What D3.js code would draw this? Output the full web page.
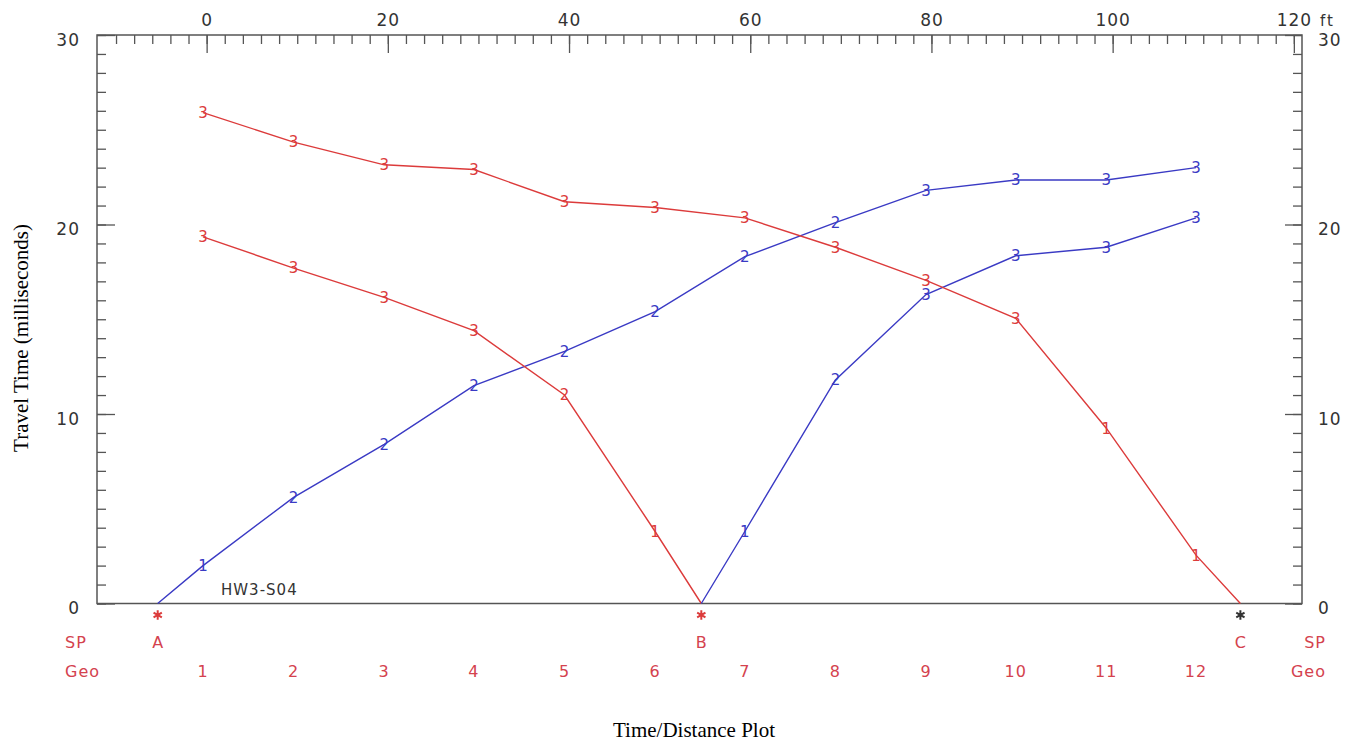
<!DOCTYPE html>
<head>
  <title>Time/Distance Plot</title>
  <meta charset="utf-8">
  <script src="https://cdn.jsdelivr.net/npm/d3@7"></script>
  <style>
    body { margin: 0; background: #fff; }
    .plotfont { font-family: "DejaVu Sans", sans-serif; }
  </style>
</head>
<body>
<div id="container"></div>
<script>
  // geophones and shot points, position along the line in ft
  const geoNames = ['1','2','3','4','5','6','7','8','9','10','11','12'];
  const geoFt = [-0.4, 9.6, 19.6, 29.5, 39.5, 49.5, 59.4, 69.4, 79.4, 89.3, 99.3, 109.2];
  const shotNames = ['A','B','C'];
  const shotFt = [-5.4, 54.6, 114.1];

  // travel times (ms) and picked layer numbers
  // shot A, forward, geophones 1-12
  const shotATimes = [2.0, 5.6, 8.4, 11.5, 13.3, 15.4, 18.3, 20.1, 21.8, 22.35, 22.35, 23.0];
  const shotALayers = ['1','2','2','2','2','2','2','2','3','3','3','3'];
  // shot B, reverse, geophones 1-6
  const shotBRevTimes = [19.35, 17.7, 16.15, 14.4, 11.0, 3.8];
  const shotBRevLayers = ['3','3','3','3','2','1'];
  // shot B, forward, geophones 7-12
  const shotBFwdTimes = [3.8, 11.8, 16.3, 18.35, 18.8, 20.35];
  const shotBFwdLayers = ['1','2','3','3','3','3'];
  // shot C, reverse, geophones 1-12
  const shotCTimes = [25.9, 24.35, 23.15, 22.9, 21.2, 20.9, 20.35, 18.8, 17.05, 15.05, 9.25, 2.55];
  const shotCLayers = ['3','3','3','3','3','3','3','3','3','3','1','1'];

  const topMinorTicks = d3.range(-10, 121, 2);
  const topMajorTicks = [0, 20, 40, 60, 80, 100, 120];
  const yMinorTicks = d3.range(0, 31, 1);
  const yMajorTicks = [0, 10, 20, 30];

  const width = 1362, height = 743;
  const frame = {left: 97, right: 1302, top: 35, bottom: 603.5};
  const red = '#dc3b3b', blue = '#3a3ac4', grey = '#555';

  const svg = d3.select('div#container').append('svg')
    .attr('width', width)
    .attr('height', height)
    .attr('class', 'plotfont');

  const x = d3.scaleLinear().domain([-12.1, 120.9]).range([frame.left, frame.right]);
  const y = d3.scaleLinear().domain([0, 30]).range([frame.bottom, frame.top]);

  // frame
  svg.append('rect')
    .attr('x', frame.left).attr('y', frame.top)
    .attr('width', frame.right - frame.left)
    .attr('height', frame.bottom - frame.top)
    .style('fill', 'none').style('stroke', grey).style('stroke-width', 1.5);

  function styleAxis(g) {
    g.select('.domain').remove();
    g.selectAll('line').style('stroke', grey).style('stroke-width', 1.3);
    g.selectAll('text').style('font-family', '"DejaVu Sans", sans-serif')
      .style('font-size', '17px').style('fill', '#333').style('letter-spacing', '1px');
  }

  // top distance axis, ticks pointing in
  svg.append('g').attr('transform', `translate(0,${frame.top})`)
    .call(d3.axisTop(x).tickValues(topMinorTicks).tickSize(-9).tickSizeOuter(0).tickFormat(''))
    .call(styleAxis);
  svg.append('g').attr('transform', `translate(0,${frame.top})`)
    .call(d3.axisTop(x).tickValues(topMajorTicks).tickSize(-18).tickSizeOuter(0).tickPadding(9).tickFormat(d3.format('d')))
    .call(styleAxis);

  svg.append('text')
    .attr('x', 1320).attr('y', 26)
    .style('font-size', '15px').style('fill', '#333').style('letter-spacing', '2px')
    .text('ft');

  // left and right time axes
  svg.append('g').attr('transform', `translate(${frame.left},0)`)
    .call(d3.axisLeft(y).tickValues(yMinorTicks).tickSize(-9).tickSizeOuter(0).tickFormat(''))
    .call(styleAxis);
  svg.append('g').attr('transform', `translate(${frame.left},0)`)
    .call(d3.axisLeft(y).tickValues(yMajorTicks).tickSize(-18).tickSizeOuter(0).tickPadding(-1).tickFormat(d3.format('d')))
    .call(styleAxis)
    .selectAll('text').attr('x', -17).attr('dy', '0.6em');
  svg.append('g').attr('transform', `translate(${frame.right},0)`)
    .call(d3.axisRight(y).tickValues(yMinorTicks).tickSize(-9).tickSizeOuter(0).tickFormat(''))
    .call(styleAxis);
  svg.append('g').attr('transform', `translate(${frame.right},0)`)
    .call(d3.axisRight(y).tickValues(yMajorTicks).tickSize(-17).tickSizeOuter(0).tickFormat(d3.format('d')))
    .call(styleAxis)
    .selectAll('text').attr('x', 16).attr('dy', '0.6em');

  // build the travel time branches
  const branches = [
    {color: blue, pts: [{ft: shotFt[0], t: 0, lab: null}]
      .concat(shotATimes.map((t, i) => ({ft: geoFt[i], t, lab: shotALayers[i]})))},
    {color: red, pts: shotBRevTimes.map((t, i) => ({ft: geoFt[i], t, lab: shotBRevLayers[i]}))
      .concat([{ft: shotFt[1], t: 0, lab: null}])},
    {color: blue, pts: [{ft: shotFt[1], t: 0, lab: null}]
      .concat(shotBFwdTimes.map((t, i) => ({ft: geoFt[i + 6], t, lab: shotBFwdLayers[i]})))},
    {color: red, pts: shotCTimes.map((t, i) => ({ft: geoFt[i], t, lab: shotCLayers[i]}))
      .concat([{ft: shotFt[2], t: 0, lab: null}])}
  ];

  const line = d3.line().x(d => x(d.ft)).y(d => y(d.t));

  const branchGroup = svg.selectAll('.branch')
    .data(branches)
    .enter()
    .append('g');

  branchGroup.append('path')
    .attr('d', d => line(d.pts))
    .style('fill', 'none')
    .style('stroke', d => d.color)
    .style('stroke-width', 1.4);

  branchGroup.selectAll('text')
    .data(d => d.pts.filter(p => p.lab).map(p => Object.assign({color: d.color}, p)))
    .enter()
    .append('text')
      .attr('x', d => x(d.ft))
      .attr('y', d => y(d.t))
      .attr('dy', '0.36em')
      .style('text-anchor', 'middle')
      .style('font-size', '15px')
      .style('fill', d => d.color)
      .text(d => d.lab);

  // shot point markers and labels
  const shotColors = [red, red, '#333'];
  svg.selectAll('.shot-mark')
    .data(shotFt)
    .enter()
    .append('path')
      .attr('transform', d => `translate(${x(d)},615)`)
      .attr('d', d3.symbol(d3.symbolAsterisk, 64))
      .style('fill', 'none')
      .style('stroke', (d, i) => shotColors[i])
      .style('stroke-width', 2);

  const labelColor = '#d4424e';
  svg.selectAll('.shot-label')
    .data(shotNames)
    .enter()
    .append('text')
      .attr('x', (d, i) => x(shotFt[i]))
      .attr('y', 648)
      .style('text-anchor', 'middle')
      .style('font-size', '16px')
      .style('fill', labelColor)
      .text(d => d);

  svg.selectAll('.geo-label')
    .data(geoNames)
    .enter()
    .append('text')
      .attr('x', (d, i) => x(geoFt[i]))
      .attr('y', 677)
      .style('text-anchor', 'middle')
      .style('font-size', '16px')
      .style('fill', labelColor)
      .style('letter-spacing', '1px')
      .text(d => d);

  // row names both sides
  [['SP', 648], ['Geo', 677]].forEach(([name, yy]) => {
    svg.append('text').attr('x', 65).attr('y', yy)
      .style('font-size', '16px').style('fill', labelColor).style('letter-spacing', '1px').text(name);
    svg.append('text').attr('x', 1326).attr('y', yy)
      .style('text-anchor', 'end')
      .style('font-size', '16px').style('fill', labelColor).style('letter-spacing', '1px').text(name);
  });

  // survey id
  svg.append('text')
    .attr('x', 221).attr('y', 595)
    .style('font-size', '15px').style('fill', '#333').style('letter-spacing', '1px')
    .text('HW3-S04');

  // axis titles
  svg.append('text')
    .attr('transform', 'translate(28,338) rotate(-90)')
    .style('text-anchor', 'middle')
    .style('font-family', '"Liberation Serif", "Times New Roman", serif')
    .style('font-size', '21px')
    .text('Travel Time (milliseconds)');

  svg.append('text')
    .attr('x', 694).attr('y', 737)
    .style('text-anchor', 'middle')
    .style('font-family', '"Liberation Serif", "Times New Roman", serif')
    .style('font-size', '21px')
    .text('Time/Distance Plot');
</script>
</body>
